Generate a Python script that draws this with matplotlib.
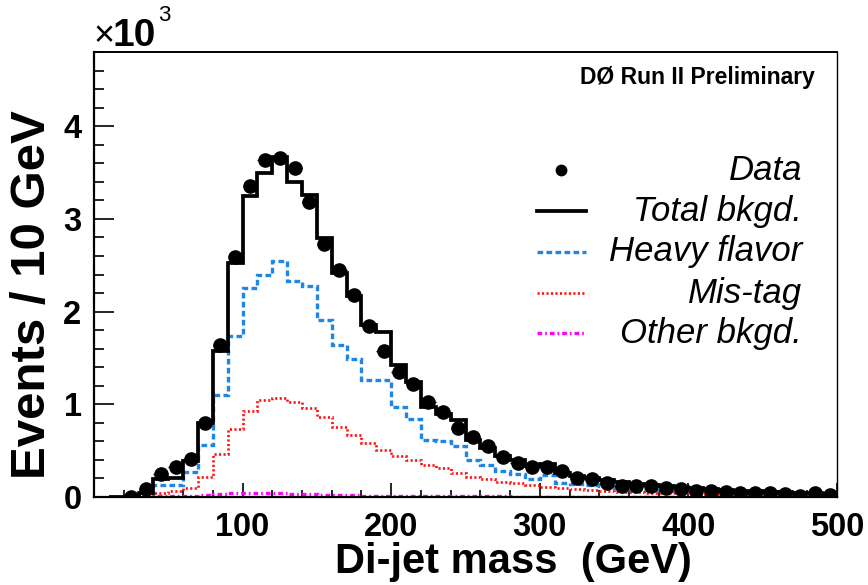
import numpy as np
import matplotlib
matplotlib.use("Agg")
import matplotlib.pyplot as plt
from matplotlib.ticker import MultipleLocator

plt.rcParams['font.family'] = ['Liberation Sans', 'DejaVu Sans']

# ---- data (events / 10 GeV, in units of 10^3) ----
bin_edges = np.arange(10, 510, 10)  # 10 ... 500 GeV

total_bkgd = [0.0, 0.0, 0.04, 0.19, 0.21, 0.39, 0.80, 1.58, 2.525, 3.25,
              3.49, 3.67, 3.40, 3.26, 2.79, 2.42, 2.17, 1.85, 1.78, 1.42,
              1.24, 0.97, 0.90, 0.83, 0.62, 0.53, 0.445, 0.40, 0.33, 0.36,
              0.26, 0.23, 0.205, 0.185, 0.16, 0.145, 0.13, 0.115, 0.105, 0.092,
              0.083, 0.076, 0.068, 0.061, 0.055, 0.051, 0.044, 0.039, 0.036]

heavy_flavor = [0.0, 0.005, 0.02, 0.125, 0.125, 0.27, 0.56, 1.10, 1.735, 2.255,
                2.40, 2.546, 2.33, 2.28, 1.907, 1.64, 1.49, 1.26, 1.26, 0.966,
                0.837, 0.62, 0.60, 0.55, 0.40, 0.34, 0.28, 0.25, 0.194, 0.237,
                0.154, 0.14, 0.126, 0.12, 0.10, 0.09, 0.08, 0.07, 0.065, 0.055,
                0.05, 0.045, 0.04, 0.035, 0.032, 0.03, 0.025, 0.022, 0.02]

mis_tag = [0.0, 0.002, 0.02, 0.04, 0.06, 0.10, 0.22, 0.465, 0.73, 0.93,
           1.05, 1.065, 1.03, 0.955, 0.86, 0.75, 0.668, 0.585, 0.506, 0.44,
           0.40, 0.345, 0.31, 0.26, 0.22, 0.19, 0.165, 0.148, 0.13, 0.11,
           0.093, 0.083, 0.075, 0.065, 0.057, 0.054, 0.048, 0.043, 0.04, 0.036,
           0.032, 0.03, 0.027, 0.025, 0.022, 0.02, 0.018, 0.016, 0.015]

other_bkgd = [0.0, 0.002, 0.005, 0.008, 0.01, 0.012, 0.02, 0.03, 0.04, 0.045,
              0.045, 0.04, 0.035, 0.03, 0.025, 0.02, 0.017, 0.015, 0.013, 0.012,
              0.01, 0.009, 0.008, 0.007, 0.007, 0.006, 0.006, 0.005, 0.005, 0.005,
              0.004, 0.004, 0.004, 0.004, 0.003, 0.003, 0.003, 0.003, 0.003, 0.003,
              0.002, 0.002, 0.002, 0.002, 0.002, 0.002, 0.002, 0.002, 0.002]

data_mass = np.arange(25, 500, 10)
data_events = [0.005, 0.085, 0.25, 0.32, 0.41, 0.80, 1.64, 2.59, 3.35, 3.63,
               3.66, 3.545, 3.18, 2.73, 2.45, 2.18, 1.84, 1.58, 1.35, 1.22,
               1.02, 0.92, 0.74, 0.643, 0.55, 0.434, 0.37, 0.32, 0.32, 0.283,
               0.208, 0.194, 0.154, 0.119, 0.115, 0.12, 0.10, 0.085, 0.07, 0.06,
               0.052, 0.048, 0.045, 0.04, 0.035, 0.012, 0.04, 0.02]

legend_labels = ["Data", "Total bkgd.", "Heavy flavor", "Mis-tag", "Other bkgd."]

W, H = 868, 585
fig = plt.figure(figsize=(W / 100, H / 100), dpi=100)
ax = fig.add_axes([94 / W, 1 - 497 / H, 743 / W, 445 / H])

blue = '#1f86e6'
red = '#ff1010'
mag = '#ff00ff'

ls_blue = (0, (1.7, 1.0))
ls_red = (0, (0.8, 0.9))
ls_mag = (0, (1.4, 0.9, 0.5, 0.9))

ax.stairs(total_bkgd, bin_edges, color='black', lw=2.7, zorder=3)
ax.stairs(heavy_flavor, bin_edges, color=blue, lw=2.4, linestyle=ls_blue, zorder=2)
ax.stairs(mis_tag, bin_edges, color=red, lw=1.9, linestyle=ls_red, zorder=2)
ax.stairs(other_bkgd, bin_edges, color=mag, lw=2.4, linestyle=ls_mag, zorder=2)
ax.errorbar(data_mass, data_events, xerr=5, fmt='o', color='black',
            ms=9.5, elinewidth=1.0, capsize=0, zorder=4)

ax.set_xlim(0, 500)
ax.set_ylim(0, 4.8)

ax.xaxis.set_major_locator(MultipleLocator(100))
ax.xaxis.set_minor_locator(MultipleLocator(20))
ax.yaxis.set_major_locator(MultipleLocator(1))
ax.yaxis.set_minor_locator(MultipleLocator(0.2))

ax.tick_params(axis='both', which='both', direction='in', top=False, right=False,
               width=1.2, color='black')
ax.tick_params(axis='x', which='major', length=10, pad=11)
ax.tick_params(axis='x', which='minor', length=5)
ax.tick_params(axis='y', which='major', length=14.5, pad=9)
ax.tick_params(axis='y', which='minor', length=7.5)

ax.set_xticks([100, 200, 300, 400, 500])
ax.set_yticks([0, 1, 2, 3, 4])
ax.set_xticklabels(['100', '200', '300', '400', '500'])
ax.set_yticklabels(['0', '1', '2', '3', '4'])
for lab in ax.get_xticklabels() + ax.get_yticklabels():
    lab.set_fontsize(23.5)
    lab.set_fontweight('bold')

for s in ['left', 'bottom']:
    ax.spines[s].set_linewidth(1.6)
ax.spines['top'].set_linewidth(1.4)
ax.spines['right'].set_linewidth(1.0)

ax.set_xlabel('Di-jet mass  (GeV)', fontsize=30, fontweight='bold')
ax.xaxis.set_label_coords(0.565, -0.1)
ax.set_ylabel('Events / 10 GeV', fontsize=35.5, fontweight='bold')
ax.yaxis.set_label_coords(-0.052, 0.455)

# exponent label
fig.text(93 / W, 1 - 46 / H, '\u00d7', fontsize=26, ha='left', va='baseline')
fig.text(113 / W, 1 - 46 / H, '10', fontsize=28, fontweight='bold', ha='left', va='baseline')
fig.text(158 / W, 1 - 21 / H, '3', fontsize=16, ha='left', va='baseline')

# experiment label
ax.text(0.970, 0.942, 'D\u00d8 Run II Preliminary', transform=ax.transAxes,
        fontsize=16.5, fontweight='bold', ha='right', va='center')

# legend (drawn manually, ROOT-style right-aligned text)
def ax_xy(px, py):
    return ((px - 94) / 743, (497 - py) / 445)

leg_y = [170, 211, 252, 293, 333]
styles = [
    dict(marker='o', ls='none', color='black', ms=7.5),
    dict(color='black', lw=2.7),
    dict(color=blue, lw=2.4, ls=ls_blue),
    dict(color=red, lw=1.9, ls=ls_red),
    dict(color=mag, lw=2.4, ls=ls_mag),
]
for lbl, py, st in zip(legend_labels, leg_y, styles):
    if st.get('marker'):
        x0, y0 = ax_xy(561, py)
        ax.plot([x0], [y0], transform=ax.transAxes, **st)
    else:
        x0, y0 = ax_xy(537, py)
        x1, _ = ax_xy(586, py)
        ax.plot([x0, x1], [y0, y0], transform=ax.transAxes, **st)
    tx, ty = ax_xy(802, py)
    ax.text(tx, ty, lbl, transform=ax.transAxes, fontsize=25, style='italic',
            ha='right', va='center')

fig.savefig('out.png', dpi=100)
